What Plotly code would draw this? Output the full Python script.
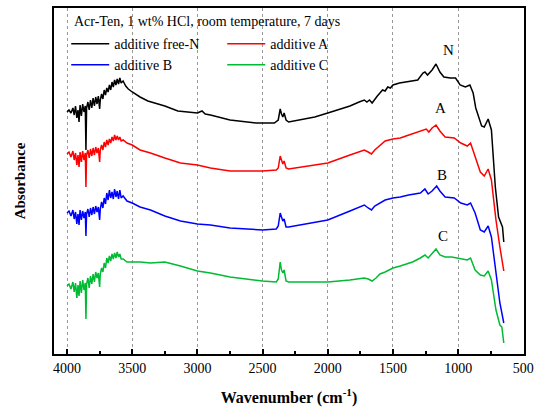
import plotly.graph_objects as go

# ---- data ----
wn_noise = [4000, 3985, 3970, 3955, 3945, 3935, 3925, 3916, 3908, 3900,
            3890, 3880, 3870, 3860, 3855, 3850, 3840, 3830, 3820, 3810,
            3800, 3790, 3780, 3770, 3760, 3750, 3745, 3735, 3725, 3715,
            3705, 3695, 3685, 3675, 3665, 3655, 3645, 3635, 3625, 3615,
            3605, 3595, 3585]

wn_N = wn_noise + [3570, 3550, 3530, 3500, 3440, 3380, 3300, 3250, 3150, 3050,
                   3000, 2965, 2940, 2900, 2750, 2550, 2410, 2380, 2365, 2355,
                   2345, 2335, 2320, 2300, 2212, 2100, 2000, 1830, 1760, 1720,
                   1700, 1680, 1660, 1640, 1620, 1600, 1580, 1560, 1540, 1520,
                   1500, 1450, 1400, 1310, 1270, 1255, 1235, 1200, 1170, 1140,
                   1110, 1060, 1020, 985, 945, 910, 885, 865, 820, 800,
                   770, 745, 715, 690, 660, 650]
abs_N = [2.42, 2.44, 2.41, 2.46, 2.39, 2.48, 2.36, 2.44, 2.32, 2.49,
         2.38, 2.50, 2.42, 2.48, 2.04, 2.46, 2.52, 2.44, 2.54, 2.46,
         2.56, 2.48, 2.57, 2.50, 2.58, 2.45, 2.54, 2.60, 2.55, 2.64,
         2.59, 2.66, 2.62, 2.69, 2.64, 2.72, 2.67, 2.74, 2.69, 2.75,
         2.70, 2.76, 2.71,
         2.73, 2.68, 2.65, 2.62, 2.57, 2.53, 2.50, 2.48, 2.43, 2.42,
         2.41, 2.43, 2.40, 2.39, 2.34, 2.31, 2.31, 2.34, 2.45, 2.40,
         2.37, 2.41, 2.34, 2.32, 2.34, 2.37, 2.41, 2.48, 2.52, 2.54,
         2.52, 2.54, 2.51, 2.55, 2.58, 2.61, 2.64, 2.63, 2.67, 2.66,
         2.69, 2.71, 2.72, 2.74, 2.81, 2.82, 2.79, 2.84, 2.90, 2.82,
         2.77, 2.76, 2.76, 2.69, 2.67, 2.69, 2.61, 2.46, 2.28, 2.27,
         2.35, 2.24, 1.67, 1.37, 1.27, 1.12]

wn_A = wn_noise + [3570, 3540, 3500, 3440, 3360, 3250, 3130, 3000, 2900, 2750,
                   2500, 2395, 2380, 2365, 2355, 2345, 2335, 2320, 2300, 2000,
                   1830, 1760, 1720, 1690, 1665, 1640, 1600, 1560, 1500, 1444,
                   1400, 1300, 1275, 1245, 1225, 1200, 1170, 1140, 1100, 1030,
                   980, 930, 905, 880, 830, 800, 770, 745, 710, 680,
                   650]
abs_A = [2.00, 2.02, 1.97, 2.03, 1.94, 2.01, 1.89, 1.99, 1.87, 2.02,
         1.92, 2.03, 1.94, 2.01, 1.67, 1.99, 2.04, 1.96, 2.05, 1.98,
         2.06, 1.99, 2.07, 2.01, 2.06, 1.92, 2.04, 2.09, 2.04, 2.12,
         2.07, 2.14, 2.09, 2.15, 2.11, 2.17, 2.13, 2.19, 2.14, 2.18,
         2.14, 2.17, 2.13,
         2.14, 2.11, 2.09, 2.04, 2.01, 1.96, 1.91, 1.89, 1.86, 1.83,
         1.83, 1.84, 1.86, 1.98, 1.93, 1.90, 1.93, 1.86, 1.85, 1.91,
         1.99, 2.02, 2.04, 2.02, 2.00, 2.04, 2.09, 2.13, 2.15, 2.16,
         2.18, 2.23, 2.24, 2.25, 2.22, 2.26, 2.29, 2.23, 2.17, 2.16,
         2.11, 2.08, 2.11, 2.01, 1.82, 1.78, 1.85, 1.74, 1.34, 1.07,
         0.83]

wn_B = wn_noise + [3570, 3540, 3500, 3440, 3360, 3250, 3130, 3000, 2900, 2750,
                   2500, 2395, 2380, 2365, 2355, 2345, 2335, 2320, 2300, 2000,
                   1830, 1760, 1720, 1690, 1665, 1640, 1600, 1560, 1500, 1444,
                   1380, 1290, 1255, 1230, 1200, 1165, 1140, 1100, 1030, 980,
                   930, 905, 870, 830, 800, 770, 745, 710, 680, 650]
abs_B = [1.41, 1.43, 1.38, 1.44, 1.35, 1.42, 1.30, 1.40, 1.29, 1.44,
         1.34, 1.43, 1.36, 1.42, 1.18, 1.40, 1.45, 1.37, 1.46, 1.39,
         1.47, 1.40, 1.48, 1.42, 1.47, 1.34, 1.45, 1.52, 1.46, 1.56,
         1.50, 1.61, 1.54, 1.64, 1.56, 1.62, 1.55, 1.65, 1.57, 1.63,
         1.55, 1.64, 1.56,
         1.58, 1.53, 1.51, 1.47, 1.44, 1.38, 1.33, 1.30, 1.29, 1.26,
         1.24, 1.25, 1.28, 1.41, 1.36, 1.33, 1.35, 1.27, 1.27, 1.34,
         1.43, 1.47, 1.49, 1.46, 1.44, 1.48, 1.51, 1.54, 1.56, 1.57,
         1.59, 1.61, 1.65, 1.60, 1.63, 1.68, 1.63, 1.57, 1.56, 1.51,
         1.49, 1.51, 1.41, 1.24, 1.22, 1.28, 1.17, 0.84, 0.51, 0.31]

wn_C = wn_noise + [3570, 3540, 3500, 3440, 3360, 3250, 3130, 3000, 2900, 2750,
                   2500, 2395, 2380, 2365, 2355, 2345, 2335, 2320, 2300, 2000,
                   1830, 1720, 1690, 1660, 1630, 1600, 1560, 1500, 1444, 1350,
                   1290, 1255, 1230, 1200, 1170, 1140, 1100, 1050, 980, 930,
                   905, 870, 830, 800, 770, 745, 710, 680, 665, 650]
abs_C = [0.68, 0.70, 0.65, 0.72, 0.62, 0.71, 0.56, 0.69, 0.58, 0.73,
         0.61, 0.74, 0.64, 0.71, 0.35, 0.70, 0.76, 0.66, 0.78, 0.70,
         0.80, 0.72, 0.82, 0.76, 0.81, 0.67, 0.80, 0.86, 0.82, 0.91,
         0.86, 0.96, 0.91, 0.98, 0.93, 1.00, 0.95, 1.01, 0.96, 1.02,
         0.97, 1.00, 0.95,
         0.95, 0.92, 0.92, 0.92, 0.91, 0.92, 0.88, 0.83, 0.81, 0.77,
         0.73, 0.72, 0.75, 0.92, 0.84, 0.81, 0.84, 0.73, 0.72, 0.72,
         0.74, 0.76, 0.75, 0.73, 0.76, 0.80, 0.82, 0.86, 0.88, 0.92,
         0.96, 0.99, 0.96, 1.00, 1.05, 0.99, 0.97, 0.97, 0.95, 0.94,
         0.96, 0.84, 0.79, 0.78, 0.83, 0.74, 0.44, 0.29, 0.27, 0.11]

series_names = ["additive free-N", "additive A", "additive B", "additive C"]
series_colors = ["#000000", "#ff0000", "#0000ff", "#00bb33"]
series_legend = ["legend", "legend2", "legend", "legend2"]

label_text = ["N", "A", "B", "C"]
label_wn = [1076, 1137, 1122, 1114]
label_abs = [3.04, 2.46, 1.79, 1.18]

x_ticks = [4000, 3500, 3000, 2500, 2000, 1500, 1000, 500]
title_text = "Acr-Ten, 1 wt% HCl, room temperature, 7 days"

FONT = "Liberation Serif, Times New Roman, serif"

fig = go.Figure()
for wn, ab, name, col, lg in zip([wn_N, wn_A, wn_B, wn_C],
                                 [abs_N, abs_A, abs_B, abs_C],
                                 series_names, series_colors, series_legend):
    fig.add_trace(go.Scatter(x=wn, y=ab, mode="lines", name=name,
                             line=dict(color=col, width=1.5), legend=lg))

for t, xv, yv in zip(label_text, label_wn, label_abs):
    fig.add_annotation(x=xv, y=yv, text=t, showarrow=False,
                       font=dict(family=FONT, size=15, color="#000"))

fig.add_annotation(xref="paper", yref="paper", x=0.038, y=0.96,
                   xanchor="left", yanchor="middle", text=title_text,
                   showarrow=False, font=dict(family=FONT, size=14, color="#000"))

leg_common = dict(xanchor="left", yanchor="top", bgcolor="rgba(0,0,0,0)",
                  font=dict(family=FONT, size=14, color="#000"),
                  itemwidth=38, tracegroupgap=0)

fig.update_layout(
    width=535, height=407,
    margin=dict(l=54, r=11, t=8, b=53, autoexpand=False),
    paper_bgcolor="white", plot_bgcolor="white",
    font=dict(family=FONT, color="#000"),
    legend=dict(x=0.026, y=0.942, **leg_common),
    legend2=dict(x=0.358, y=0.942, **leg_common),
    xaxis=dict(
        range=[4100, 495], tickvals=x_ticks, automargin=False,
        ticks="inside", ticklen=5, tickwidth=1.5, tickcolor="#000",
        minor=dict(dtick=250, tick0=0, ticks="inside", ticklen=3,
                   tickwidth=1.5, tickcolor="#000", showgrid=False),
        showline=True, linecolor="#000", linewidth=2, mirror=True,
        showgrid=True, gridcolor="#999", griddash="dot", gridwidth=1,
        zeroline=False,
        tickfont=dict(family=FONT, size=14, color="#000"),
        title=dict(text="<b>Wavenumber (cm<sup>-1</sup>)</b>",
                   font=dict(family=FONT, size=16, color="#000"), standoff=21),
    ),
    yaxis=dict(
        range=[0, 3.46], showticklabels=False, ticks="", automargin=False,
        showline=True, linecolor="#000", linewidth=2, mirror=True,
        showgrid=False, zeroline=False,
        title=dict(text="<b>Absorbance</b>",
                   font=dict(family=FONT, size=15, color="#000"), standoff=23),
    ),
)

# remove the browser's default 8px body margin so the figure fills the window
fig.write_html("out.html",
               config={"displayModeBar": False},
               post_script="document.body.style.margin='0';"
                           "document.body.style.overflow='hidden';")
